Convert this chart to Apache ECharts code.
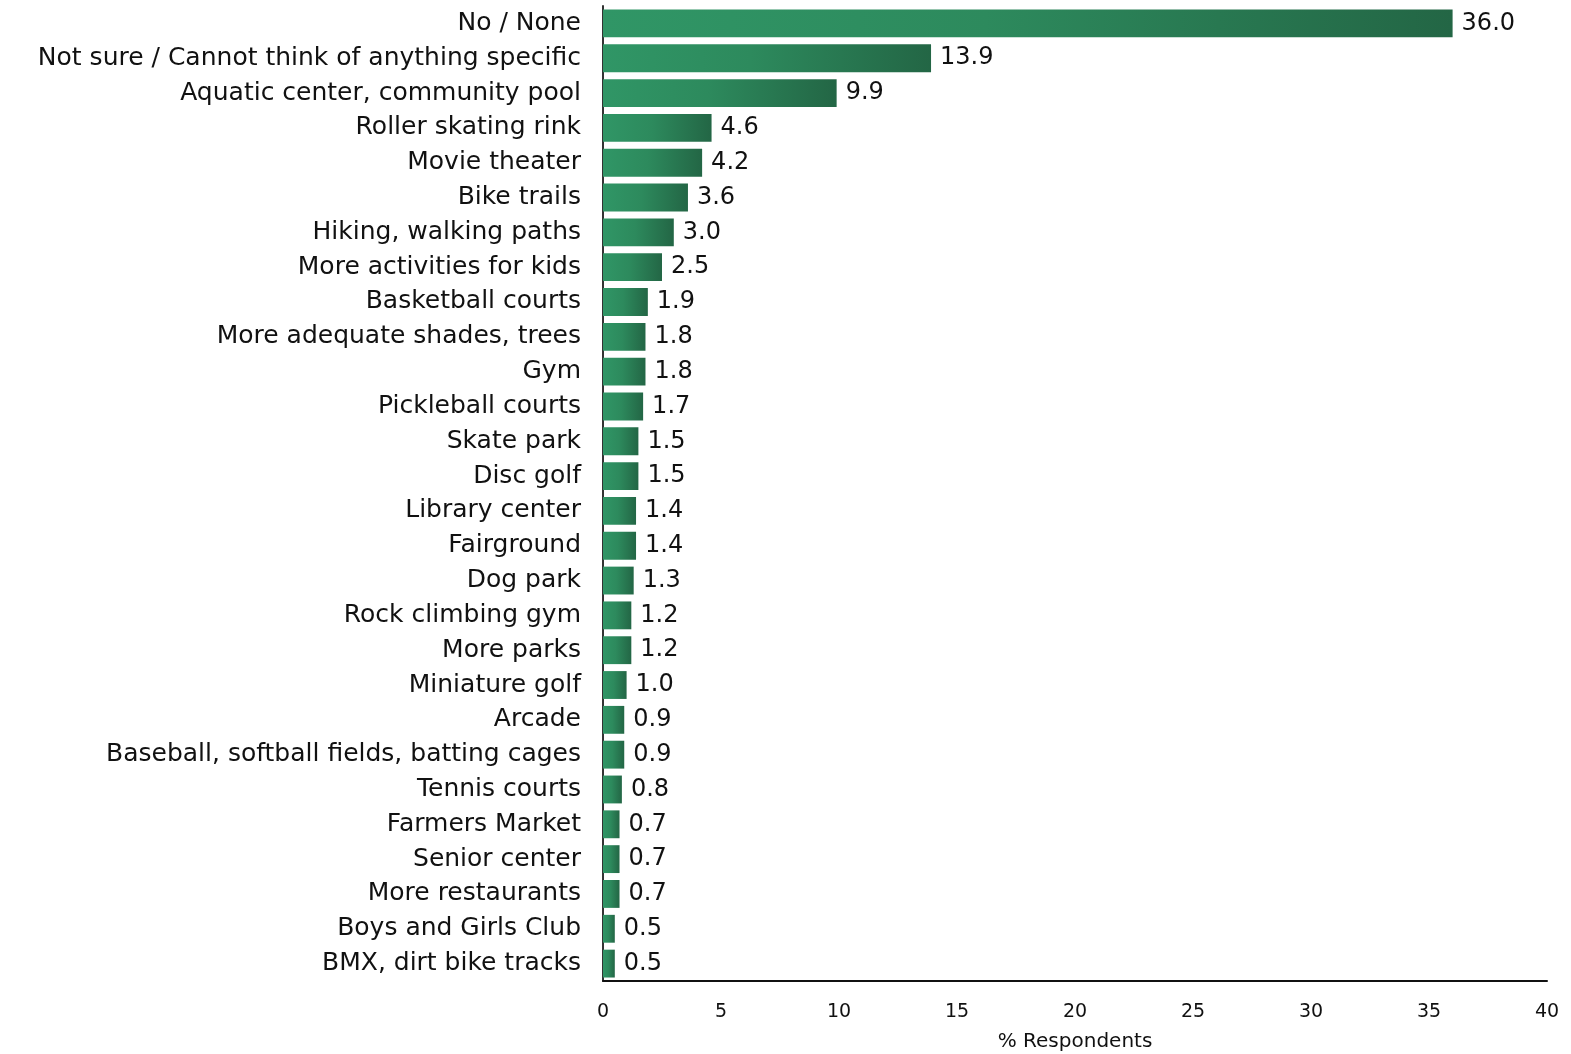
<!DOCTYPE html>
<html>
<head>
<meta charset="utf-8">
<script src="https://cdn.jsdelivr.net/npm/echarts@6/dist/echarts.min.js"></script>
<style>
  html, body { margin: 0; padding: 0; background: #fff; }
  #main { width: 1571px; height: 1054px; }
</style>
</head>
<body>
<div id="main"></div>
<script>
// categories, top to bottom
var categories = [
  'No / None',
  'Not sure / Cannot think of anything specific',
  'Aquatic center, community pool',
  'Roller skating rink',
  'Movie theater',
  'Bike trails',
  'Hiking, walking paths',
  'More activities for kids',
  'Basketball courts',
  'More adequate shades, trees',
  'Gym',
  'Pickleball courts',
  'Skate park',
  'Disc golf',
  'Library center',
  'Fairground',
  'Dog park',
  'Rock climbing gym',
  'More parks',
  'Miniature golf',
  'Arcade',
  'Baseball, softball fields, batting cages',
  'Tennis courts',
  'Farmers Market',
  'Senior center',
  'More restaurants',
  'Boys and Girls Club',
  'BMX, dirt bike tracks'
];
var respondents = [36.0, 13.9, 9.9, 4.6, 4.2, 3.6, 3.0, 2.5, 1.9, 1.8, 1.8, 1.7, 1.5, 1.5,
  1.4, 1.4, 1.3, 1.2, 1.2, 1.0, 0.9, 0.9, 0.8, 0.7, 0.7, 0.7, 0.5, 0.5];
var xTicks = [0, 5, 10, 15, 20, 25, 30, 35, 40];

var font = 'DejaVu Sans';
var myChart = echarts.init(document.getElementById('main'));

var option = {
  animation: false,
  grid: { left: 603, right: 24, top: 6, bottom: 73, containLabel: false, outerBoundsMode: 'none' },
  xAxis: {
    type: 'value',
    min: xTicks[0],
    max: xTicks[xTicks.length - 1],
    interval: 5,
    name: '% Respondents',
    nameLocation: 'middle',
    nameGap: 51,
    nameTextStyle: { fontFamily: font, fontSize: 20, color: '#111' },
    axisLine: { show: true, lineStyle: { color: '#111', width: 2 } },
    axisTick: { show: false },
    splitLine: { show: false },
    axisLabel: { fontFamily: font, fontSize: 19, color: '#111', margin: 22 }
  },
  yAxis: {
    type: 'category',
    inverse: true,
    data: categories,
    axisLine: { show: true, lineStyle: { color: '#333', width: 2 } },
    axisTick: { show: false },
    axisLabel: { fontFamily: font, fontSize: 25, color: '#111', margin: 22 }
  },
  series: [{
    type: 'bar',
    data: respondents,
    barCategoryGap: '20%',
    itemStyle: {
      color: new echarts.graphic.LinearGradient(0, 0, 1, 0, [
        { offset: 0, color: '#309666' },
        { offset: 0.45, color: '#2d8a5d' },
        { offset: 1, color: '#236645' }
      ])
    },
    label: {
      show: true,
      position: 'right',
      distance: 9,
      fontFamily: font,
      fontSize: 24,
      color: '#111',
      formatter: function (p) { return p.value.toFixed(1); }
    }
  }]
};

myChart.setOption(option);
</script>
</body>
</html>
